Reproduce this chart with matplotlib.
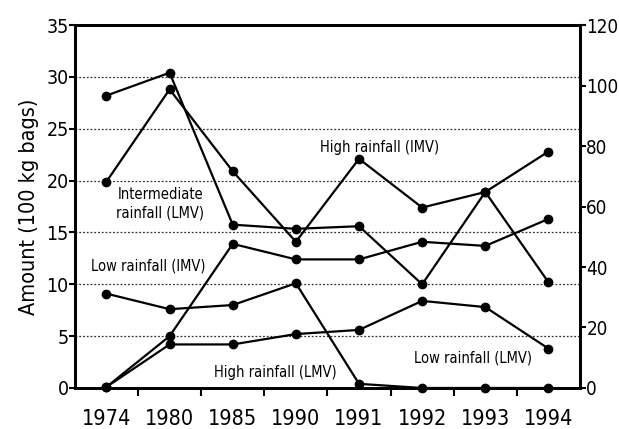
import matplotlib
matplotlib.use("Agg")
import matplotlib.pyplot as plt
from matplotlib import font_manager
import numpy as np

# condensed face if the box has one, else Liberation Sans
_fp = font_manager.FontProperties(family="DejaVu Sans", stretch="condensed")
_path = font_manager.findfont(_fp, fallback_to_default=False)
if "Condensed" in _path:
    plt.rcParams["font.family"] = ["DejaVu Sans"]
    plt.rcParams["font.stretch"] = "condensed"
else:
    plt.rcParams["font.family"] = ["Liberation Sans", "DejaVu Sans"]

years = ["1974", "1980", "1985", "1990", "1991", "1992", "1993", "1994"]

intermediate_lmv = [28.2, 30.4, 15.75, 15.35, 15.6, 10.0, 18.9, 10.2]
high_imv = [19.9, 28.8, 20.9, 14.1, 22.1, 17.4, 18.9, 22.8]
low_imv = [0.1, 5.0, 13.9, 12.4, 12.4, 14.1, 13.7, 16.3]
high_lmv = [9.1, 7.6, 8.0, 10.1, 0.4, 0.0, 0.0, 0.0]
low_lmv = [0.1, 4.2, 4.2, 5.2, 5.6, 8.4, 7.8, 3.8]

series = [intermediate_lmv, high_imv, low_imv, high_lmv, low_lmv]

fig = plt.figure(figsize=(6.19, 4.29), dpi=100)
ax = fig.add_axes([0.121, 0.0956, 0.816, 0.846])

x = np.arange(len(years))
for s in series:
    ax.plot(x, s, color="black", lw=1.6, marker="o", ms=6, clip_on=False, zorder=3)

ax.set_xlim(-0.5, len(years) - 0.5)
ax.set_ylim(0, 35)
ax.set_yticks(np.arange(0, 36, 5))
for g in range(5, 35, 5):
    ax.axhline(g, color="#333333", ls=(0, (1.5, 1.5)), lw=0.9, zorder=1)

ax.set_xticks(np.arange(0.5, len(years) - 0.5, 1))
ax.set_xticklabels([])
ax.set_xticks(x, minor=True)
ax.set_xticklabels(years, minor=True)
ax.tick_params(axis="x", which="major", length=6, width=1.5, direction="out")
ax.tick_params(axis="x", which="minor", length=0, pad=15, labelsize=15.5)
ax.tick_params(axis="y", length=4, width=1.5, labelsize=14, pad=0.5)
ax.set_ylabel("Amount (100 kg bags)", fontsize=15.5, labelpad=5)

for sp in ax.spines.values():
    sp.set_linewidth(2)

ax2 = ax.twinx()
ax2.set_ylim(0, 120)
ax2.set_yticks(np.arange(0, 121, 20))
ax2.tick_params(axis="y", length=4, width=1.5, labelsize=13.5, pad=0.5)
for sp in ax2.spines.values():
    sp.set_linewidth(2)

fs = 10.5
ax.text(0.85, 17.8, "Intermediate\nrainfall (LMV)", ha="center", va="center",
        fontsize=fs, linespacing=1.3)
ax.text(4.33, 23.2, "High rainfall (IMV)", ha="center", va="center", fontsize=fs)
ax.text(0.66, 11.8, "Low rainfall (IMV)", ha="center", va="center", fontsize=fs)
ax.text(2.67, 1.5, "High rainfall (LMV)", ha="center", va="center", fontsize=fs)
ax.text(5.81, 2.9, "Low rainfall (LMV)", ha="center", va="center", fontsize=fs)

fig.savefig("out.png", dpi=100)
